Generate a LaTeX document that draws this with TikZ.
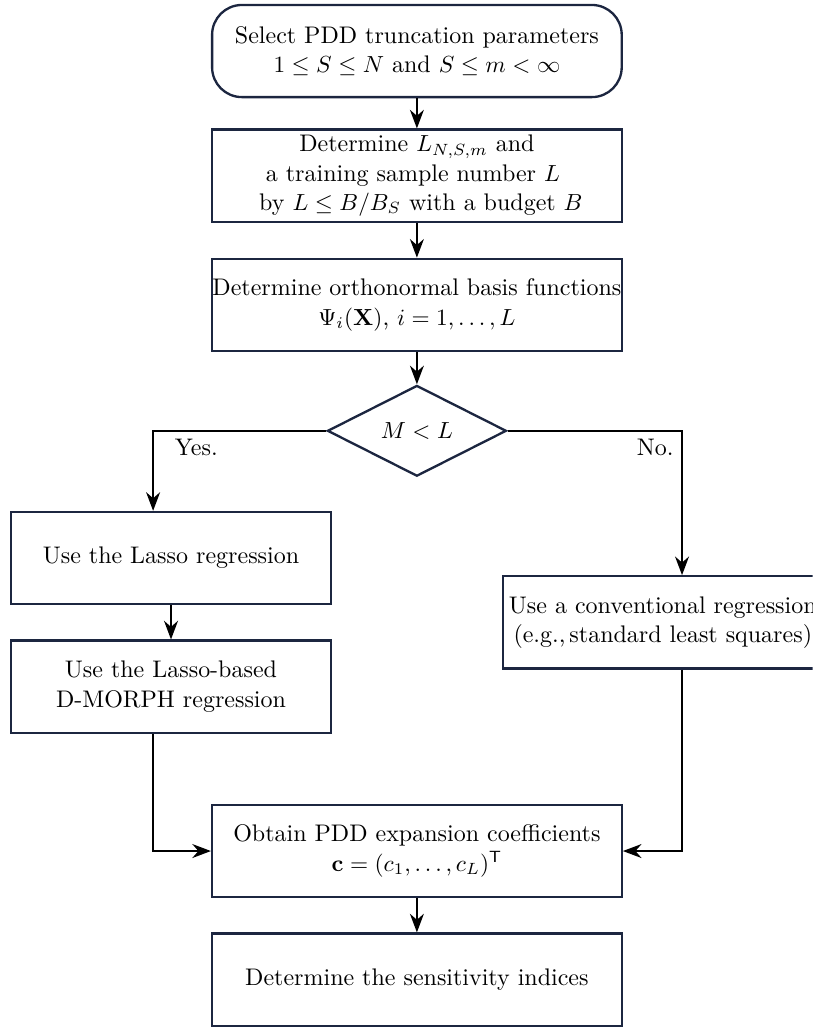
\documentclass[tikz,border=0pt]{standalone}
\usepackage{amsmath,amssymb}
\usetikzlibrary{shapes.geometric,arrows.meta}
\definecolor{navy}{RGB}{28,38,64}

\begin{document}
\begin{tikzpicture}[
	font=\fontsize{10.3pt}{12.6pt}\selectfont,
	procbox/.style={draw=navy,line width=1pt,minimum width=6.18cm,minimum height=1.39cm,align=center,inner xsep=0pt,inner ysep=1pt},
	sidebox/.style={procbox,minimum width=4.83cm},
	startbox/.style={procbox,rounded corners=0.45cm},
	decbox/.style={diamond,draw=navy,line width=1pt,minimum width=2.7cm,minimum height=1.37cm,inner sep=0pt},
	arr/.style={-{Stealth[length=8pt,width=6pt]},line width=0.7pt}
	]
	\clip (0,0) rectangle (12.26,-15.51);
	\def\cx{6.29};
	\coordinate (yescol) at (2.31,0);
	\coordinate (nocol) at (10.29,0);
	% main column
	\node[startbox] (sel) at (\cx,-0.77) {Select PDD truncation parameters\\ $1\leq S\leq N$ and $S\leq m<\infty$};
	\node[procbox] (det) at (\cx,-2.65) {Determine $L_{N,S,m}$ and\\ a training sample number $L$~~\\ ~by $L\leq B/B_S$ with a budget $B$};
	\node[procbox] (basis) at (\cx,-4.60) {Determine orthonormal basis functions\\ $\Psi_i(\mathbf{X})$, $i=1,\ldots,L$};
	\node[decbox] (dec) at (\cx,-6.50) {$M<L$};
	% branches
	\node[sidebox] (lasso) at (2.58,-8.42) {Use the Lasso regression};
	\node[sidebox] (dmorph) at (2.58,-10.36) {Use the Lasso-based\\ D-MORPH regression};
	\node[sidebox] (conv) at (10.0,-9.39) {Use a conventional regression\\ (e.g.,\,standard least squares)};
	\node[procbox] (coef) at (\cx,-12.84) {Obtain PDD expansion coefficients\\ $\mathbf{c}=(c_1,\ldots,c_L)^{\mathsf{T}}$};
	\node[procbox] (sens) at (\cx,-14.78) {Determine the sensitivity indices};
	% connectors
	\draw[arr] (sel) -- (det);
	\draw[arr] (det) -- (basis);
	\draw[arr] (basis) -- (dec);
	\draw[arr] (dec.west) -| node[pos=0.5,below right,xshift=0.2cm] {Yes.} (lasso.north -| yescol);
	\draw[arr] (dec.east) -| node[pos=0.5,below left] {No.} (conv.north -| nocol);
	\draw[arr] (lasso) -- (dmorph);
	\draw[arr] (dmorph.south -| yescol) |- (coef.west);
	\draw[arr] (conv.south -| nocol) |- (coef.east);
	\draw[arr] (coef) -- (sens);
\end{tikzpicture}
\end{document}
